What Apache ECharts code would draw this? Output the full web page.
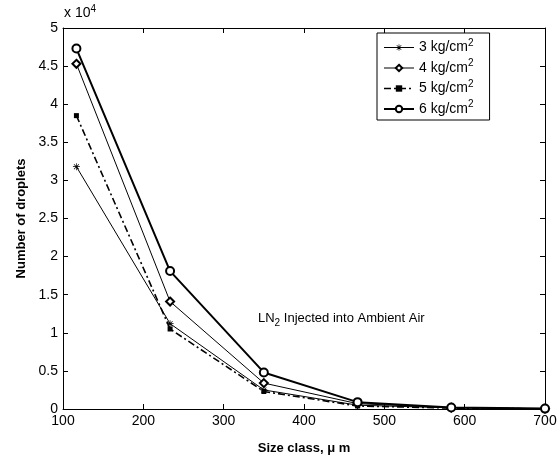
<!DOCTYPE html>
<html>
<head>
<meta charset="utf-8">
<script src="https://cdn.jsdelivr.net/npm/echarts@6/dist/echarts.min.js"></script>
<style>
  html, body { margin: 0; padding: 0; background: #fff; }
  #chart { width: 560px; height: 461px; }
</style>
</head>
<body>
<div id="chart"></div>
<script>
// size classes (um)
const sizeClass = [116.7, 233.3, 350, 466.7, 583.3, 700];
// droplet counts per injection pressure
const p3 = [31800, 11200, 2500, 500, 150, 30];
const p4 = [45300, 14100, 3400, 700, 180, 40];
const p5 = [38500, 10500, 2300, 400, 120, 20];
const p6 = [47300, 18100, 4800, 900, 200, 50];
const seriesNames = ['3 kg/cm{s|2}', '4 kg/cm{s|2}', '5 kg/cm{s|2}', '6 kg/cm{s|2}'];
const lineWidths = [1, 1, 1.6, 2];

const chart = echarts.init(document.getElementById('chart'));
const font = 'Liberation Sans, Arial, sans-serif';

// asterisk marker
const asterisk = 'path://M4.5,0 L5.5,0 L5.5,10 L4.5,10 Z M0,4.5 L10,4.5 L10,5.5 L0,5.5 Z ' +
  'M1.1,1.8 L1.8,1.1 L8.9,8.2 L8.2,8.9 Z M8.2,1.1 L8.9,1.8 L1.8,8.9 L1.1,8.2 Z';

const pts = arr => arr.map((v, i) => [sizeClass[i], v]);

const axisCommon = {
  type: 'value',
  axisLine: { show: true, onZero: false, lineStyle: { color: '#000', width: 1 } },
  axisTick: { show: true, inside: true, length: 5, lineStyle: { color: '#000' } },
  splitLine: { show: false }
};

chart.setOption({
  animation: false,
  grid: { left: 63, right: 15, top: 28, bottom: 52 },
  xAxis: [
    Object.assign({}, axisCommon, {
      min: 100, max: 700, interval: 100,
      position: 'bottom',
      axisLabel: { color: '#000', fontSize: 14, fontFamily: font, margin: 5 },
      name: 'Size class, \u03bc m',
      nameLocation: 'middle', nameGap: 33,
      nameTextStyle: { color: '#000', fontSize: 13, fontWeight: 'bold', fontFamily: font }
    }),
    Object.assign({}, axisCommon, {
      min: 100, max: 700, interval: 100, position: 'top',
      axisLabel: { show: false }
    })
  ],
  yAxis: [
    Object.assign({}, axisCommon, {
      min: 0, max: 50000, interval: 5000,
      position: 'left',
      axisLabel: {
        color: '#000', fontSize: 14, fontFamily: font, margin: 5,
        formatter: v => String(v / 10000)
      },
      name: 'Number of droplets',
      nameLocation: 'middle', nameGap: 34, nameRotate: 90,
      nameTextStyle: { color: '#000', fontSize: 13, fontWeight: 'bold', fontFamily: font }
    }),
    Object.assign({}, axisCommon, {
      min: 0, max: 50000, interval: 5000, position: 'right',
      axisLabel: { show: false }
    })
  ],
  legend: {
    orient: 'vertical',
    left: 377, top: 33,
    padding: [5, 16, 4, 6],
    itemGap: 4,
    itemWidth: 30, itemHeight: 8,
    borderColor: '#000', borderWidth: 1,
    backgroundColor: '#fff',
    textStyle: {
      color: '#000', fontSize: 14, fontFamily: font,
      rich: { s: { fontSize: 10, padding: [0, 0, 9, 0], fontFamily: font, color: '#000' } }
    },
    data: seriesNames.map((n, i) => ({ name: n, lineStyle: { width: lineWidths[i] } }))
  },
  graphic: [
    {
      type: 'text', left: 64, top: 4,
      style: {
        text: 'x 10{s|4}', fill: '#000', font: '14px ' + font,
        rich: { s: { fontSize: 10, padding: [0, 0, 9, 0], fontFamily: font } }
      }
    },
    {
      type: 'text', left: 258, top: 312,
      style: {
        text: 'LN{b|2} Injected into Ambient Air', fill: '#000', font: '13px ' + font,
        rich: { b: { fontSize: 10, padding: [9, 0, 0, 0], fontFamily: font } }
      }
    }
  ],
  series: [
    {
      name: seriesNames[0], type: 'line', data: pts(p3),
      symbol: asterisk, symbolSize: 7,
      lineStyle: { color: '#000', width: lineWidths[0] },
      itemStyle: { color: '#000' }
    },
    {
      name: seriesNames[1], type: 'line', data: pts(p4),
      symbol: 'emptyDiamond', symbolSize: 8,
      lineStyle: { color: '#000', width: lineWidths[1] },
      itemStyle: { color: '#000', borderWidth: 1 }
    },
    {
      name: seriesNames[2], type: 'line', data: pts(p5),
      symbol: 'rect', symbolSize: 5,
      lineStyle: { color: '#000', width: lineWidths[2], type: [7, 3, 2, 3] },
      itemStyle: { color: '#000' }
    },
    {
      name: seriesNames[3], type: 'line', data: pts(p6),
      symbol: 'emptyCircle', symbolSize: 8,
      lineStyle: { color: '#000', width: lineWidths[3] },
      itemStyle: { color: '#000', borderWidth: 2 },
      z: 5
    }
  ]
});
</script>
</body>
</html>
